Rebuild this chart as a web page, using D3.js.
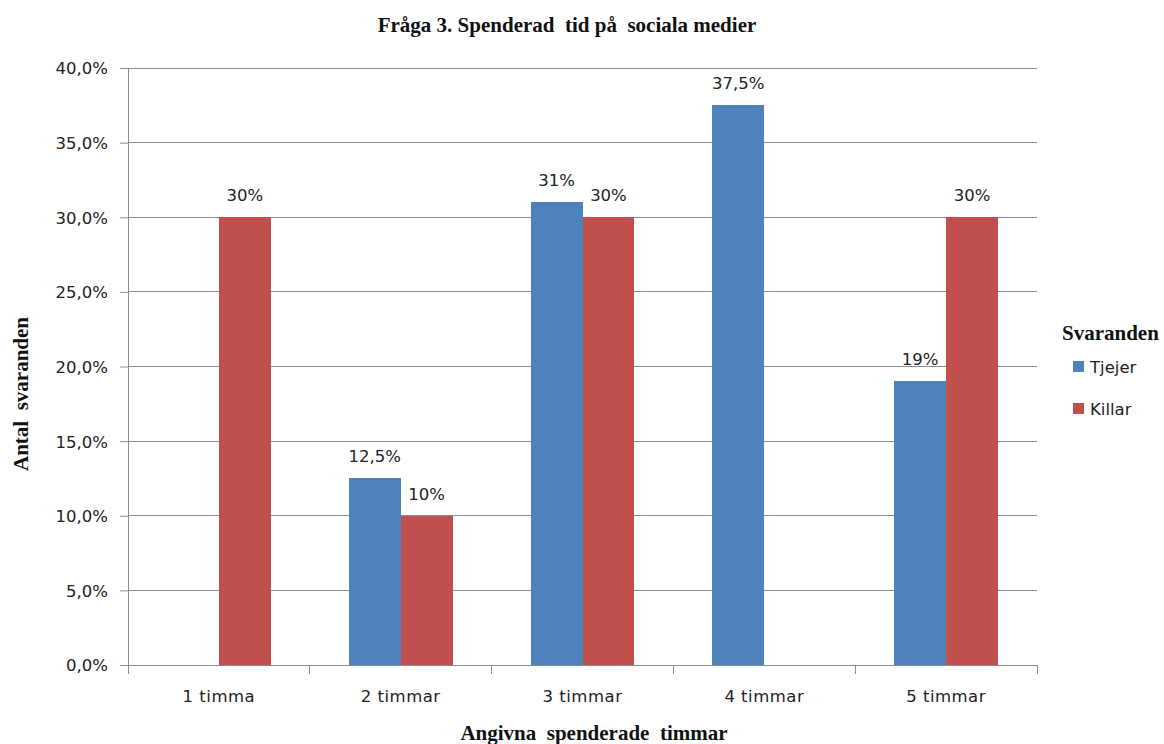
<!DOCTYPE html>
<html>
<head>
<meta charset="utf-8">
<script src="https://cdn.jsdelivr.net/npm/d3@7/dist/d3.min.js"></script>
<style>
  html, body { margin: 0; padding: 0; background: #fff; }
  svg { display: block; }
  .tick-label { font-family: "DejaVu Sans", Verdana, sans-serif; font-size: 16.5px; fill: #222; }
  .serif-bold { font-family: "Liberation Serif", "Times New Roman", serif; font-weight: bold; fill: #111; }
</style>
</head>
<body>
<svg id="chart" width="1164" height="744"></svg>
<script>
// Survey data: share of respondents per reported hours on social media
const categories = ["1 timma", "2 timmar", "3 timmar", "4 timmar", "5 timmar"];
const seriesNames = ["Tjejer", "Killar"];
const tjejer = [null, 12.5, 31, 37.5, 19];
const killar = [30, 10, 30, null, 30];
const yTicks = [0, 5, 10, 15, 20, 25, 30, 35, 40];
const colors = ["#4F81BD", "#C0504D"];

const series = [tjejer, killar];

const svg = d3.select("#chart");
const margin = { left: 128, right: 1037, top: 68, bottom: 665 };

const x = d3.scaleBand()
  .domain(categories)
  .range([margin.left, margin.right])
  .paddingInner(0)
  .paddingOuter(0);

// 150% gap: two bars plus 1.5 bar widths of gap per category
const barW = x.bandwidth() / 3.5;
const xs = d3.scaleBand()
  .domain(seriesNames)
  .range([0.75 * barW, 2.75 * barW]);

const y = d3.scaleLinear().domain([0, 40]).range([margin.bottom, margin.top]);

const fmtTick = v => v.toFixed(1).replace(".", ",") + "%";
const fmtVal = v => (Number.isInteger(v) ? String(v) : String(v).replace(".", ",")) + "%";

// gridlines
svg.append("g")
  .selectAll("line")
  .data(yTicks.filter(t => t > 0))
  .join("line")
  .attr("x1", margin.left).attr("x2", margin.right)
  .attr("y1", d => y(d)).attr("y2", d => y(d))
  .attr("stroke", "#8c8c8c").attr("stroke-width", 1)
  .attr("shape-rendering", "crispEdges");

// bars with value labels
series.forEach((vals, si) => {
  const pts = categories.map((c, i) => ({ c, v: vals[i] })).filter(d => d.v != null);
  svg.append("g")
    .selectAll("rect")
    .data(pts)
    .join("rect")
    .attr("x", d => x(d.c) + xs(seriesNames[si]))
    .attr("width", xs.bandwidth())
    .attr("y", d => y(d.v))
    .attr("height", d => y(0) - y(d.v))
    .attr("fill", colors[si])
    .attr("shape-rendering", "crispEdges");

  svg.append("g")
    .selectAll("text")
    .data(pts)
    .join("text")
    .attr("class", "tick-label")
    .attr("x", d => x(d.c) + xs(seriesNames[si]) + xs.bandwidth() / 2)
    .attr("y", d => y(d.v) - 16)
    .attr("text-anchor", "middle")
    .text(d => fmtVal(d.v));
});

// y axis
const yAxis = d3.axisLeft(y).tickValues(yTicks).tickFormat(fmtTick).tickSize(8).tickPadding(12);
const gy = svg.append("g").attr("transform", `translate(${margin.left},0)`).call(yAxis);
gy.select(".domain").attr("stroke", "#8c8c8c").attr("d", `M0.5,${margin.top}V${margin.bottom + 8}`);
gy.selectAll(".tick line").attr("stroke", "#8c8c8c");
gy.selectAll(".tick text").attr("class", "tick-label").attr("fill", "#222").attr("dy", "0.36em");

// x axis baseline and category ticks
const gx = svg.append("g");
gx.append("line")
  .attr("x1", margin.left).attr("x2", margin.right)
  .attr("y1", y(0)).attr("y2", y(0))
  .attr("stroke", "#8c8c8c").attr("shape-rendering", "crispEdges");
const bounds = categories.map(c => x(c)).concat([x(categories[categories.length - 1]) + x.bandwidth()]);
gx.selectAll("line.tk")
  .data(bounds)
  .join("line")
  .attr("class", "tk")
  .attr("x1", d => d).attr("x2", d => d)
  .attr("y1", y(0)).attr("y2", y(0) + 9)
  .attr("stroke", "#8c8c8c").attr("shape-rendering", "crispEdges");
gx.selectAll("text")
  .data(categories)
  .join("text")
  .attr("class", "tick-label")
  .attr("x", d => x(d) + x.bandwidth() / 2)
  .attr("y", y(0) + 37)
  .attr("text-anchor", "middle")
  .attr("letter-spacing", "0.5px")
  .text(d => d);

// titles
svg.append("text").attr("class", "serif-bold")
  .attr("x", 567).attr("y", 32).attr("text-anchor", "middle")
  .style("font-size", "21px").attr("xml:space", "preserve")
  .text("Fråga 3. Spenderad  tid på  sociala medier");

svg.append("text").attr("class", "serif-bold")
  .attr("x", 594).attr("y", 740).attr("text-anchor", "middle")
  .style("font-size", "21px").attr("xml:space", "preserve")
  .text("Angivna  spenderade  timmar");

svg.append("text").attr("class", "serif-bold")
  .attr("transform", "translate(28,394) rotate(-90)")
  .attr("text-anchor", "middle")
  .style("font-size", "21px").attr("xml:space", "preserve")
  .text("Antal  svaranden");

// legend
const lg = svg.append("g");
lg.append("text").attr("class", "serif-bold")
  .attr("x", 1062).attr("y", 340)
  .style("font-size", "21px")
  .text("Svaranden");
seriesNames.forEach((n, i) => {
  const ly = 367 + i * 42;
  lg.append("rect").attr("x", 1073).attr("y", ly - 6).attr("width", 11).attr("height", 11).attr("fill", colors[i]);
  lg.append("text").attr("class", "tick-label").attr("x", 1090).attr("y", ly).attr("dy", "0.36em").text(n);
});
</script>
</body>
</html>
